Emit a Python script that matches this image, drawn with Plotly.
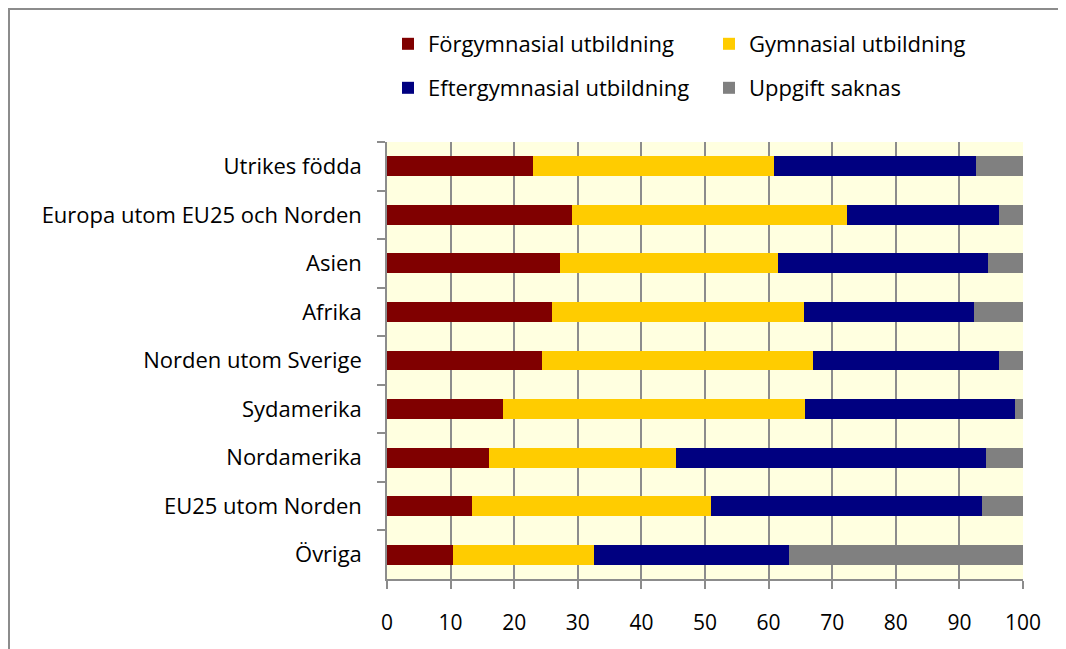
import plotly.graph_objects as go

categories = ["Utrikes födda", "Europa utom EU25 och Norden", "Asien", "Afrika",
              "Norden utom Sverige", "Sydamerika", "Nordamerika", "EU25 utom Norden", "Övriga"]
forgymnasial = [23.0, 29.1, 27.2, 26.0, 24.3, 18.2, 16.1, 13.3, 10.3]
gymnasial = [37.9, 43.3, 34.3, 39.5, 42.7, 47.5, 29.3, 37.7, 22.2]
eftergymnasial = [31.7, 23.9, 33.0, 26.8, 29.3, 33.1, 48.8, 42.6, 30.7]
uppgift_saknas = [7.4, 3.7, 5.5, 7.7, 3.7, 1.2, 5.8, 6.4, 36.8]
x_ticks = [0, 10, 20, 30, 40, 50, 60, 70, 80, 90, 100]

# the page body has an 8px margin, so work in reference pixels minus 8
OFF = 8
W, H = 1066 - OFF, 649 - OFF
L, R, T, B = 387 - OFF, 1066 - 1023, 142 - OFF, 649 - 579
pw, ph = W - L - R, H - T - B

def px_x(px):
    return (px - OFF - L) / pw

def px_y(py):
    return (H - B - (py - OFF)) / ph

series = [
    ("Förgymnasial utbildning", forgymnasial, "#800000", "legend", 388, 44),
    ("Gymnasial utbildning", gymnasial, "#FFCC00", "legend2", 709, 44),
    ("Eftergymnasial utbildning", eftergymnasial, "#000080", "legend3", 388, 88),
    ("Uppgift saknas", uppgift_saknas, "#808080", "legend4", 709, 88),
]

FONT = "Open Sans"
FS = 22
fig = go.Figure()
legends = {}
for name, vals, color, lg, lx, ly in series:
    fig.add_trace(go.Bar(
        y=categories, x=vals, name=name, orientation="h", showlegend=True,
        marker=dict(color=color, line=dict(width=0)), legend=lg,
    ))
    legends[lg] = dict(orientation="h", x=px_x(lx), xanchor="left", y=px_y(ly), yanchor="middle",
                       font=dict(size=FS, family=FONT, color="black"),
                       bgcolor="rgba(0,0,0,0)", itemclick=False, itemdoubleclick=False)

fig.update_layout(
    width=W, height=H, showlegend=True,
    barmode="stack", bargap=0.59,
    plot_bgcolor="#FFFFE0", paper_bgcolor="white",
    margin=dict(l=L, r=R, t=T, b=B, autoexpand=False),
    font=dict(family=FONT, size=FS, color="black"),
    xaxis=dict(range=[0, 100], tickvals=x_ticks, showgrid=True, gridcolor="#8C8C8C", gridwidth=1.5,
               showline=True, linecolor="#8C8C8C", linewidth=1.5, ticks="outside", ticklen=8,
               tickcolor="#8C8C8C", tickwidth=1.5, ticklabelstandoff=16, zeroline=False,
               tickfont=dict(size=21, family=FONT)),
    yaxis=dict(autorange="reversed", showgrid=False, showline=True, linecolor="#8C8C8C", linewidth=1.5,
               ticks="outside", tickson="boundaries", ticklen=8, tickcolor="#8C8C8C", tickwidth=1.5,
               ticklabelstandoff=19, tickfont=dict(size=FS, family=FONT)),
    shapes=[
        dict(type="line", xref="paper", yref="paper", x0=px_x(8), x1=px_x(1066), y0=px_y(9), y1=px_y(9),
             line=dict(color="#8C8C8C", width=2)),
        dict(type="line", xref="paper", yref="paper", x0=px_x(9), x1=px_x(9), y0=px_y(8), y1=px_y(649),
             line=dict(color="#8C8C8C", width=2)),
    ],
    **legends,
)

fig.write_html("out.html")
